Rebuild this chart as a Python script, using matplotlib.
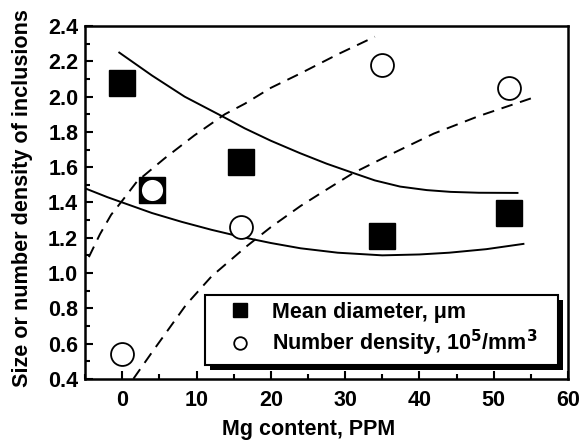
import matplotlib
matplotlib.use("Agg")
import matplotlib.pyplot as plt
from matplotlib.patches import Rectangle
from matplotlib.ticker import MultipleLocator, FormatStrFormatter

plt.rcParams['font.family'] = ['Liberation Sans', 'DejaVu Sans']
plt.rcParams['font.weight'] = 'bold'

# measured points
mg = [0, 4, 16, 35, 52]
mean_diam = [2.08, 1.47, 1.63, 1.21, 1.34]
num_dens = [0.54, 1.47, 1.26, 2.18, 2.05]

# band curves
up_solid_x = [-0.4, 4, 8.4, 13.4, 16.5, 20, 23.9, 27.5, 31.1, 34, 37.4, 41, 44.2, 48, 53.2]
up_solid_y = [2.25, 2.12, 2.00, 1.89, 1.82, 1.75, 1.68, 1.62, 1.567, 1.525, 1.49, 1.47, 1.46, 1.455, 1.454]
lo_solid_x = [-5, -2, 0, 4, 8, 12, 16, 20, 24, 29, 35, 40, 44, 49, 54]
lo_solid_y = [1.48, 1.43, 1.40, 1.34, 1.29, 1.245, 1.205, 1.17, 1.14, 1.115, 1.10, 1.105, 1.115, 1.135, 1.165]
up_dash_x = [-4.5, -3, -1.5, 0, 2, 5.7, 9.7, 13.8, 16.5, 20, 23.9, 29, 34]
up_dash_y = [1.09, 1.22, 1.33, 1.41, 1.52, 1.65, 1.78, 1.90, 1.96, 2.05, 2.13, 2.24, 2.34]
lo_dash_x = [1.5, 4, 8.6, 12, 16.7, 20, 24, 27, 31.1, 36, 41.9, 48, 55]
lo_dash_y = [0.40, 0.55, 0.82, 0.98, 1.15, 1.26, 1.38, 1.46, 1.567, 1.67, 1.79, 1.89, 1.99]

fig = plt.figure(figsize=(5.79, 4.43), dpi=100)
ax = fig.add_axes([0.147, 0.145, 0.834, 0.796])

ax.plot(up_solid_x, up_solid_y, color='black', lw=1.4)
ax.plot(lo_solid_x, lo_solid_y, color='black', lw=1.4)
ax.plot(up_dash_x, up_dash_y, color='black', lw=1.4, dashes=(6, 4))
ax.plot(lo_dash_x, lo_dash_y, color='black', lw=1.4, dashes=(6, 4))

ax.plot(mg, mean_diam, 's', color='black', ms=19, zorder=3, label='Mean diameter, μm')
ax.plot(mg, num_dens, 'o', mfc='white', mec='black', mew=1.3, ms=16.5, zorder=4,
        label='Number density, 10$^\\mathbf{5}$/mm$^\\mathbf{3}$   ')

ax.set_xlim(-5, 60)
ax.set_ylim(0.4, 2.4)
ax.xaxis.set_major_locator(MultipleLocator(10))
ax.xaxis.set_minor_locator(MultipleLocator(5))
ax.yaxis.set_major_locator(MultipleLocator(0.2))
ax.yaxis.set_minor_locator(MultipleLocator(0.1))
ax.yaxis.set_major_formatter(FormatStrFormatter('%.1f'))
ax.tick_params(which='both', direction='in', top=False, right=False, width=1.5)
ax.tick_params(which='major', length=6, labelsize=15.5, pad=5)
ax.tick_params(axis='x', which='major', pad=8)
ax.tick_params(which='minor', length=3.5)
for s in ax.spines.values():
    s.set_linewidth(1.8)

ax.set_xlabel('Mg content, PPM', fontsize=15.5, fontweight='bold')
ax.xaxis.set_label_coords(0.462, -0.115)
ax.set_ylabel('Size or number density of inclusions', fontsize=15.6, fontweight='bold')
ax.yaxis.set_label_coords(-0.108, 0.512)

leg = ax.legend(loc='lower right', bbox_to_anchor=(0.979, 0.04), borderaxespad=0, fontsize=15.5,
                fancybox=False, edgecolor='black', framealpha=1, markerscale=0.55,
                handletextpad=0.2, borderpad=0.3, labelspacing=0.25, handlelength=2.65)
leg.get_frame().set_linewidth(1.5)
leg.set_zorder(10)

fig.canvas.draw()
bb = leg.get_window_extent().transformed(ax.transAxes.inverted())
dx = 5 / ax.bbox.width
dy = 5 / ax.bbox.height
shadow = Rectangle((bb.x0 + dx, bb.y0 - dy), bb.width, bb.height, transform=ax.transAxes,
                   facecolor='black', edgecolor='none', zorder=9, clip_on=False)
ax.add_patch(shadow)

fig.savefig('out.png', dpi=100)
